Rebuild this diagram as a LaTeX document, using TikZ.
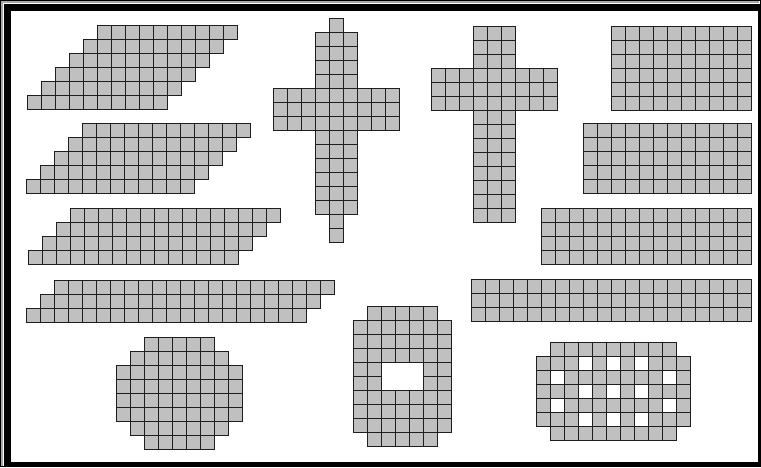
\documentclass[tikz,border=0pt]{standalone}
\usepackage{tikz}
\definecolor{CellFill}{HTML}{C0C0C0}
\definecolor{CellEdge}{HTML}{1E1E1E}
\definecolor{FrameGray}{HTML}{A8A8A8}
\tikzset{
  cell/.style={fill=CellFill,draw=CellEdge,line width=1.4pt},
  hole cell/.style={fill=white,draw=CellEdge,line width=1.4pt},
  frame bar/.style={fill=black}
}
\def\cellw{14}

\begin{document}
\begin{tikzpicture}[x=1pt,y=-1pt]
  % 1 unit = 1 pixel of the 761 x 467 reference, y grows downwards
  \path[use as bounding box] (0,0) rectangle (761,467);

  % window frame
  \draw[black,line width=1pt] (0.5,0.5) rectangle (760.5,466.5);
  \draw[FrameGray,line width=2pt] (2,466) -- (2,2) -- (759,2);
  \fill[frame bar] (3.5,3.5) rectangle (760,10.5);
  \fill[frame bar] (3.5,3.5) rectangle (10.5,467);
  \fill[frame bar] (3.5,461.5) rectangle (761,467);
  \fill[frame bar] (757.5,3.5) rectangle (760,467);

  % one row of #3 cells, top left corner at (#1,#2)
  \newcommand{\cellrow}[3]{%
    \foreach \k in {1,...,#3}{%
      \draw[cell] ({#1+(\k-1)*\cellw},{#2}) rectangle ++(\cellw,\cellw);%
    }%
  }

  \begin{scope}[shift={(0.5,0.5)}]
  % slanted blocks on the left
  \foreach \r in {0,...,5}{\cellrow{97-\r*\cellw}{25+\r*\cellw}{10}}
  \foreach \r in {0,...,4}{\cellrow{82-\r*\cellw}{123+\r*\cellw}{12}}
  \foreach \r in {0,...,3}{\cellrow{70-\r*\cellw}{208+\r*\cellw}{15}}
  \foreach \r in {0,...,2}{\cellrow{54-\r*\cellw}{280+\r*\cellw}{20}}

  % straight blocks on the right
  \foreach \r in {0,...,5}{\cellrow{751-10*\cellw}{26+\r*\cellw}{10}}
  \foreach \r in {0,...,4}{\cellrow{751-12*\cellw}{123+\r*\cellw}{12}}
  \foreach \r in {0,...,3}{\cellrow{751-15*\cellw}{208+\r*\cellw}{15}}
  \foreach \r in {0,...,2}{\cellrow{751-20*\cellw}{279+\r*\cellw}{20}}

  % first cross (row/offset/count)
  \foreach \r/\o/\n in {0/4/1,1/3/3,2/3/3,3/3/3,4/3/3,5/0/9,6/0/9,7/0/9,
      8/3/3,9/3/3,10/3/3,11/3/3,12/3/3,13/3/3,14/4/1,15/4/1}
    {\cellrow{273+\o*\cellw}{18+\r*\cellw}{\n}}

  % second cross
  \foreach \r/\o/\n in {0/3/3,1/3/3,2/3/3,3/0/9,4/0/9,5/0/9,
      6/3/3,7/3/3,8/3/3,9/3/3,10/3/3,11/3/3,12/3/3,13/3/3}
    {\cellrow{431+\o*\cellw}{26+\r*\cellw}{\n}}

  % round block
  \foreach \r/\o/\n in {0/2/5,1/1/7,2/0/9,3/0/9,4/0/9,5/0/9,6/1/7,7/2/5}
    {\cellrow{116+\o*\cellw}{337+\r*\cellw}{\n}}

  % block with a hole
  \foreach \r/\o/\n in {0/1/5,1/0/7,2/0/7,3/0/7,4/0/7,5/0/7,6/0/7,7/0/7,8/0/7,9/1/5}
    {\cellrow{353+\o*\cellw}{306+\r*\cellw}{\n}}
  \draw[hole cell] ({353+2*\cellw},{306+4*\cellw}) rectangle ++({3*\cellw},{2*\cellw});

  % perforated block
  \foreach \r/\o/\n in {0/1/9,1/0/11,2/0/11,3/0/11,4/0/11,5/0/11,6/1/9}
    {\cellrow{536+\o*\cellw}{342+\r*\cellw}{\n}}
  \foreach \r/\c in {1/3,1/5,1/7,2/1,2/9,3/3,3/5,3/7,4/1,4/9,5/3,5/5,5/7}
    {\draw[hole cell] ({536+\c*\cellw},{342+\r*\cellw}) rectangle ++(\cellw,\cellw);}
  \end{scope}
\end{tikzpicture}
\end{document}
